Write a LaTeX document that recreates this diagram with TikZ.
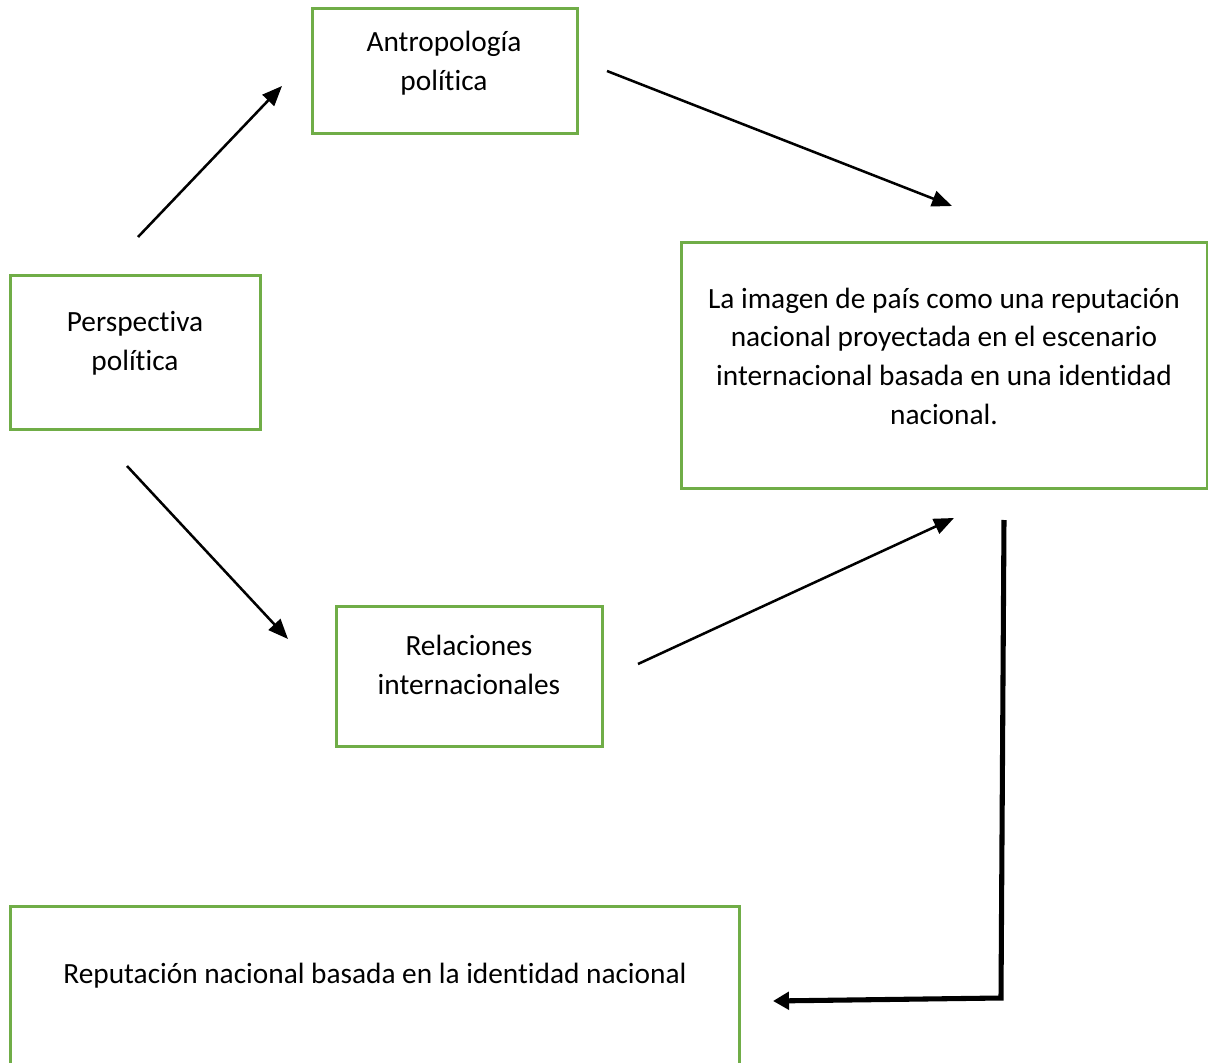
\documentclass[tikz,border=0pt]{standalone}
\usepackage{fontspec}
\setmainfont[RawFeature={-liga;-clig}]{Carlito}
\usetikzlibrary{arrows.meta}
\definecolor{boxgreen}{HTML}{70AD47}
\begin{document}
\begin{tikzpicture}[x=0.75pt,y=-0.75pt,
  box/.style={draw=boxgreen,line width=2.25pt,fill=none},
  txt/.style={align=center,font=\fontsize{22}{29}\selectfont,inner sep=0pt},
  link/.style={line width=1.9pt,-{Triangle[length=15pt,width=12pt]}},
  heavylink/.style={line width=3.8pt,-{Triangle[length=12pt,width=13pt]}}]
\useasboundingbox (0,0) rectangle (1208,1063);

% boxes
\draw[box] (312,9) rectangle (577,134);
\draw[box] (10,275) rectangle (260,429);
\draw[box] (681,242) rectangle (1207,488);
\draw[box] (336,606) rectangle (602,746);
\draw[box] (10,906) rectangle (739,1075);

% texts
\node[txt] (antro) at (444,63) {Antropología\\política};
\node[txt] (persp) at (135,343) {Perspectiva\\política};
\node[txt] (imagen) at (944,356) {La imagen de país como una reputación\\nacional proyectada en el escenario\\internacional basada en una identidad\\nacional.};
\node[txt] (rel) at (469,665) {Relaciones\\internacionales};
\node[txt] (rep) at (375,976) {Reputación nacional basada en la identidad nacional};

% connector end points
\coordinate (a1) at (138,237);
\coordinate (a2) at (282,86);
\coordinate (b1) at (607,71);
\coordinate (b2) at (952,206);
\coordinate (c1) at (127,466);
\coordinate (c2) at (288,639);
\coordinate (d1) at (638,664);
\coordinate (d2) at (954,518);
\coordinate (e1) at (1004,520);
\coordinate (e2) at (1001,998);
\coordinate (e3) at (773,1001);

% connectors
\draw[link] (a1) -- (a2);
\draw[link] (b1) -- (b2);
\draw[link] (c1) -- (c2);
\draw[link] (d1) -- (d2);
\draw[heavylink] (e1) -- (e2) -- (e3);
\end{tikzpicture}
\end{document}
